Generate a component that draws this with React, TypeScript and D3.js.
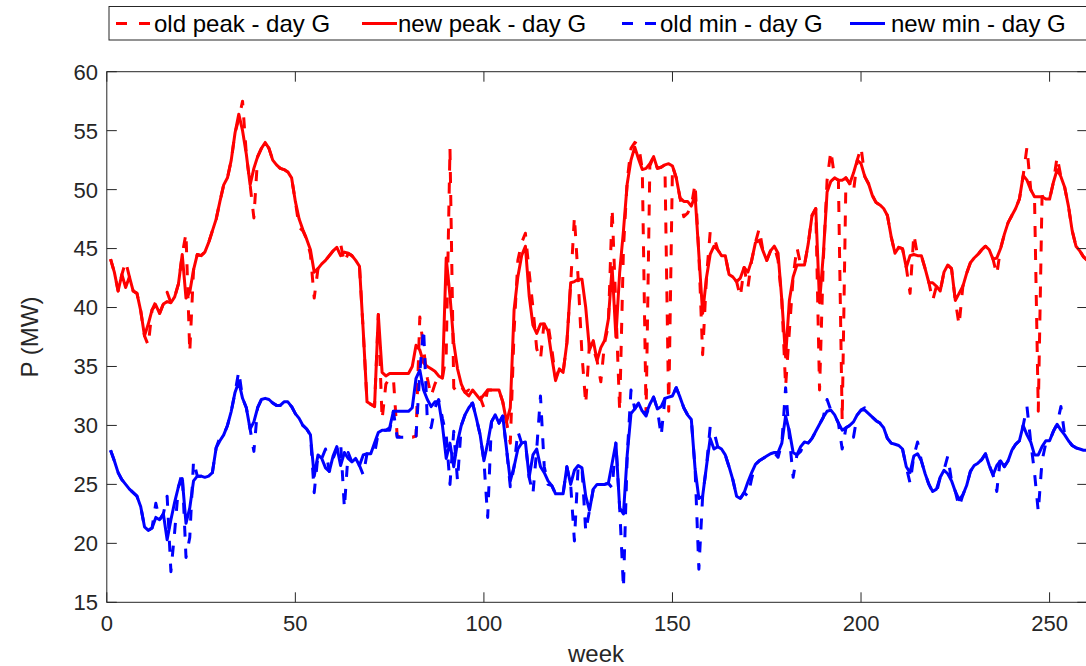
import React from "react";
import * as d3 from "d3";

// ---- data ----
const weeks: number[] = d3.range(1, 261);

const xTicks = [0, 50, 100, 150, 200, 250];
const yTicks = [15, 20, 25, 30, 35, 40, 45, 50, 55, 60];

const seriesNames = ["old peak - day G", "new peak - day G", "old min - day G", "new min - day G"];

const oldPeak: number[] = [
  44.1, 43.0, 41.4, 42.8, 43.9, 42.6, 41.4, 41.2, 39.7, 37.6,
  36.8, 39.8, 40.5, 39.5, 40.3, 41.3, 40.4, 40.9, 42.0, 44.5,
  46.3, 36.2, 43.2, 44.5, 44.4, 44.7, 45.5, 46.5, 47.5, 49.0,
  50.4, 51.0, 52.5, 54.8, 56.0, 57.5, 53.0, 50.4, 47.6, 52.8,
  53.5, 54.0, 53.5, 52.5, 52.1, 51.8, 51.7, 51.5, 51.0, 49.0,
  46.8, 46.5, 45.8, 44.5, 40.8, 43.3, 43.7, 44.0, 44.4, 44.8,
  45.2, 45.4, 43.8, 44.6, 44.4, 44.0, 43.5, 38.0, 32.0, 31.8,
  31.6, 39.4, 30.5, 33.5, 34.0, 34.0, 29.1, 29.0, 29.0, 29.0,
  29.0, 29.1, 39.2, 36.5, 34.0, 32.5, 33.5, 34.2, 34.0, 36.0,
  53.5, 33.2, 32.8, 33.3, 32.8, 33.0, 32.8, 32.6, 32.4, 31.5,
  33.0, 33.0, 33.0, 33.0, 32.0, 30.3, 28.5, 38.0, 44.0, 45.5,
  46.3, 43.0, 40.0, 36.5, 35.6, 38.9, 38.6, 36.5, 34.0, 34.8,
  34.5, 37.0, 42.0, 47.7, 42.4, 36.0, 31.8, 37.0, 36.5, 35.5,
  33.7, 37.0, 38.5, 48.4, 40.0, 31.2, 45.0, 50.8, 53.5, 54.0,
  53.8, 51.7, 30.9, 52.0, 52.8, 51.8, 51.9, 52.1, 31.2, 52.0,
  51.0, 49.3, 47.7, 48.0, 48.6, 50.5, 44.5, 36.0, 42.5, 46.4,
  46.0, 44.9, 44.4, 44.4, 42.8, 42.6, 42.2, 40.9, 43.4, 41.7,
  44.0, 45.5, 46.7, 44.8, 44.0, 44.8, 45.2, 44.0, 40.6, 33.3,
  38.0, 42.6, 45.1, 43.6, 43.6, 45.4, 47.8, 48.4, 33.0, 44.0,
  50.8, 53.3, 51.0, 50.8, 30.4, 51.0, 50.5, 49.8, 52.5, 53.6,
  51.1, 50.5, 49.5, 48.9, 48.7, 48.4, 47.8, 46.0, 44.6, 45.1,
  45.0, 43.4, 41.2, 46.2, 44.4, 44.4, 43.3, 42.1, 40.6, 41.8,
  41.4, 43.0, 43.6, 43.3, 40.6, 38.5, 41.8, 42.9, 43.8, 44.2,
  44.5, 44.9, 45.2, 44.9, 44.1, 42.8, 45.0, 46.2, 47.2, 47.8,
  48.4, 49.2, 51.2, 53.6, 50.0, 49.4, 31.2, 49.4, 49.5, 49.2,
  50.6, 52.8, 51.1, 50.2, 48.6, 46.5, 45.2, 44.8, 44.3, 44.0,
];

const newPeak: number[] = [
  44.1, 43.0, 41.4, 42.8, 41.7, 42.6, 41.4, 41.2, 39.7, 37.6,
  38.6, 39.8, 40.2, 39.5, 40.3, 40.5, 40.4, 40.9, 42.0, 44.5,
  40.8, 41.3, 43.2, 44.5, 44.4, 44.7, 45.5, 46.5, 47.5, 49.0,
  50.4, 51.0, 52.5, 54.8, 56.4, 55.0, 53.0, 50.4, 51.8, 52.8,
  53.5, 54.0, 53.5, 52.5, 52.1, 51.8, 51.7, 51.5, 51.0, 49.0,
  47.5, 46.6, 45.8, 44.9, 43.0, 43.3, 43.7, 44.0, 44.4, 44.8,
  45.1, 44.4, 44.7, 44.6, 44.4, 44.0, 43.5, 38.0, 32.0, 31.8,
  31.6, 39.4, 34.5, 34.2, 34.4, 34.4, 34.4, 34.4, 34.4, 34.4,
  35.0, 36.8, 36.4, 35.3, 35.0, 34.8, 34.6, 34.2, 34.0, 44.2,
  41.0, 37.0, 34.8, 33.5, 32.8, 32.5, 33.0, 32.6, 32.2, 32.6,
  33.0, 33.0, 33.0, 33.0, 32.0, 30.3, 31.5, 39.8, 42.6, 44.4,
  45.2, 41.0, 38.5, 37.8, 38.6, 38.6, 38.0, 35.8, 33.8, 34.8,
  34.5, 37.0, 42.1, 42.2, 42.4, 42.4, 40.0, 36.4, 37.2, 35.5,
  36.6, 37.2, 39.0, 43.4, 37.5, 43.0, 46.5, 50.5, 52.5, 53.6,
  52.6, 51.7, 51.8, 52.2, 52.8, 51.8, 51.9, 52.1, 52.2, 52.0,
  51.0, 49.3, 49.0, 49.0, 48.6, 49.5, 44.5, 39.5, 42.5, 44.5,
  45.2, 44.9, 44.4, 44.4, 42.8, 42.6, 42.2, 42.5, 43.4, 43.0,
  44.0, 45.5, 45.7, 44.8, 44.0, 44.8, 45.2, 44.6, 40.6, 35.8,
  40.6, 42.6, 43.6, 43.6, 43.6, 45.4, 47.8, 48.4, 40.4, 44.5,
  49.8, 50.7, 51.0, 50.8, 50.8, 51.0, 50.5, 51.4, 52.5, 52.2,
  51.1, 50.5, 49.5, 48.9, 48.7, 48.4, 47.8, 46.0, 44.6, 45.1,
  45.0, 43.4, 44.4, 44.5, 44.4, 44.4, 43.3, 42.1, 42.1, 41.8,
  41.4, 43.0, 43.6, 43.3, 40.6, 41.2, 41.8, 42.9, 43.8, 44.2,
  44.5, 44.9, 45.2, 44.9, 44.1, 44.2, 45.0, 46.2, 47.2, 47.8,
  48.4, 49.2, 51.2, 50.8, 50.0, 49.4, 49.4, 49.4, 49.2, 49.2,
  50.6, 51.7, 51.1, 50.2, 48.6, 46.5, 45.2, 44.8, 44.3, 44.0,
];

const oldMin: number[] = [
  27.9, 27.0, 26.0, 25.4, 25.0, 24.6, 24.3, 24.0, 23.1, 21.4,
  21.1, 21.3, 23.4, 22.0, 22.5, 24.0, 17.6, 21.0, 24.8, 26.0,
  18.8, 20.5, 27.0, 25.7, 25.7, 25.6, 25.7, 26.0, 28.1, 29.0,
  29.2, 30.0, 31.2, 32.8, 34.6, 32.3, 31.5, 29.7, 27.8, 31.5,
  32.2, 32.3, 32.2, 31.9, 31.7, 31.7, 32.0, 32.0, 31.6, 31.0,
  30.6, 30.0, 29.7, 29.2, 24.3, 27.5, 27.2, 28.0, 26.1, 27.2,
  28.0, 28.6, 23.0, 27.7, 26.9, 27.2, 26.6, 25.8, 27.6, 27.6,
  27.6, 29.4, 29.6, 29.6, 29.6, 31.2, 29.0, 29.0, 29.0, 29.0,
  29.0, 29.1, 34.5, 38.2, 30.4, 29.8, 31.5, 32.2, 30.6, 29.2,
  25.0, 29.5, 25.3, 30.0, 30.9, 31.7, 31.9, 30.6, 29.2, 27.0,
  22.2, 30.3, 30.9, 30.2, 30.8, 28.0, 24.8, 26.5, 29.5, 28.5,
  28.6, 25.6, 24.2, 28.0, 32.5, 26.5, 25.0, 24.9, 24.2, 24.2,
  24.2, 26.5, 25.0, 20.2, 26.6, 26.4, 21.0, 22.8, 24.6, 25.0,
  25.0, 25.0, 25.1, 24.7, 28.5, 23.0, 16.2, 27.5, 33.0, 31.4,
  31.9, 31.2, 30.8, 31.8, 32.4, 31.4, 29.1, 32.3, 32.4, 32.5,
  33.2, 32.4, 31.5, 30.9, 30.5, 26.3, 17.8, 24.0, 26.5, 29.9,
  29.5, 28.2, 28.0, 27.5, 26.5, 25.4, 24.0, 23.8, 24.3, 24.0,
  25.5, 26.7, 27.0, 27.2, 27.4, 27.6, 27.7, 27.3, 28.5, 33.2,
  29.0, 25.6, 27.5, 27.8, 28.6, 28.5, 28.9, 29.5, 30.1, 30.7,
  32.2, 31.3, 30.9, 30.2, 28.0, 29.8, 30.0, 29.0, 30.9, 31.3,
  31.5, 31.0, 30.7, 30.4, 30.2, 29.8, 28.9, 28.5, 28.4, 28.3,
  28.0, 26.5, 25.1, 27.4, 28.6, 27.0, 25.9, 25.0, 24.3, 24.3,
  25.6, 26.2, 27.4, 25.3, 24.4, 23.1, 24.1, 24.9, 26.1, 26.6,
  26.8, 27.1, 27.6, 26.6, 25.8, 24.4, 27.4, 26.5, 27.0, 27.9,
  28.4, 28.7, 30.0, 31.6, 28.6, 26.0, 22.7, 27.0, 28.5, 28.7,
  29.5, 30.1, 31.6, 29.2, 28.7, 28.3, 28.1, 28.0, 27.9, 27.9,
];

const newMin: number[] = [
  27.9, 27.0, 26.0, 25.4, 25.0, 24.6, 24.3, 24.0, 23.1, 21.4,
  21.1, 21.3, 22.2, 22.0, 22.5, 20.3, 22.0, 23.5, 24.8, 25.5,
  21.7, 23.0, 25.3, 25.7, 25.7, 25.6, 25.7, 26.0, 28.1, 28.7,
  29.2, 30.0, 31.2, 32.8, 33.7, 32.3, 31.5, 29.7, 30.3, 31.5,
  32.2, 32.3, 32.2, 31.9, 31.7, 31.7, 32.0, 32.0, 31.6, 31.0,
  30.6, 30.0, 29.7, 29.2, 25.7, 27.5, 27.2, 26.4, 26.1, 27.4,
  28.2, 26.6, 27.7, 27.2, 26.9, 27.2, 26.6, 27.5, 27.6, 27.6,
  28.5, 29.4, 29.6, 29.6, 29.8, 31.2, 31.2, 31.2, 31.2, 31.2,
  31.5, 34.0, 34.7, 33.0, 32.2, 31.6, 32.0, 32.0, 30.0, 27.2,
  28.5, 26.5, 28.6, 30.0, 30.9, 31.5, 31.9, 30.6, 29.2, 27.0,
  28.5, 30.3, 30.9, 30.2, 30.8, 28.0, 25.3, 26.5, 28.0, 28.5,
  28.6, 25.6, 27.5, 28.0, 26.5, 26.0, 25.3, 24.9, 24.2, 24.2,
  24.2, 26.5, 25.0, 26.2, 26.6, 26.4, 24.0, 22.8, 24.6, 25.0,
  25.0, 25.0, 25.1, 26.8, 28.5, 23.0, 22.5, 27.5, 31.0, 31.4,
  31.9, 31.2, 31.0, 31.8, 32.4, 31.4, 31.6, 32.3, 32.4, 32.5,
  33.2, 32.4, 31.5, 30.9, 30.5, 26.3, 23.8, 24.0, 26.5, 28.9,
  28.0, 28.2, 28.0, 27.5, 26.5, 25.4, 24.0, 23.8, 24.3, 25.2,
  26.0, 26.7, 27.0, 27.2, 27.4, 27.6, 27.7, 27.7, 28.5, 30.8,
  29.5, 27.7, 27.5, 28.2, 28.6, 28.5, 28.9, 29.5, 30.1, 30.7,
  31.2, 31.3, 30.9, 30.2, 29.6, 29.8, 30.0, 30.3, 30.9, 31.3,
  31.3, 31.0, 30.7, 30.4, 30.2, 29.8, 28.9, 28.5, 28.4, 28.3,
  28.0, 26.5, 26.0, 27.4, 27.6, 27.0, 25.9, 25.0, 24.4, 24.6,
  25.6, 26.2, 25.9, 25.3, 24.4, 23.7, 24.1, 24.9, 26.1, 26.6,
  26.8, 27.1, 27.6, 26.6, 25.8, 26.6, 27.0, 26.5, 27.0, 27.9,
  28.4, 28.7, 30.0, 29.2, 28.6, 27.5, 27.5, 28.2, 28.7, 28.7,
  29.5, 30.1, 29.6, 29.2, 28.7, 28.3, 28.1, 28.0, 27.9, 27.9,
];

// ---- layout ----
const W = 1086;
const H = 666;
const FONT = "'Liberation Sans', Arial, Helvetica, sans-serif";
const AX = "#262626";
const RED = "#ff0000";
const BLUE = "#0000ff";
const DASH = "11,12";

export default function App() {
  const x = d3.scaleLinear().domain([0, 260]).range([106.8, 1087.3]);
  const y = d3.scaleLinear().domain([15, 60]).range([602.3, 71.7]);

  const line = d3
    .line<number>()
    .x((_, i) => x(weeks[i]))
    .y((d) => y(d));

  const series = [
    { name: seriesNames[0], data: oldPeak, color: RED, dash: DASH },
    { name: seriesNames[1], data: newPeak, color: RED, dash: undefined },
    { name: seriesNames[2], data: oldMin, color: BLUE, dash: DASH },
    { name: seriesNames[3], data: newMin, color: BLUE, dash: undefined },
  ];

  const [x0, x1] = x.range();
  const [yb, yt] = y.range();
  const tick = 10;

  const legendItems = [
    { lx: 116, tx: 154 },
    { lx: 362, tx: 398 },
    { lx: 622, tx: 660 },
    { lx: 850, tx: 891 },
  ];

  return (
    <svg
      width={W}
      height={H}
      style={{ position: "absolute", left: 0, top: 0, background: "#fff" }}
      fontFamily={FONT}
    >
      <rect x={0} y={0} width={W} height={H} fill="#fff" />
      <defs>
        <clipPath id="plotclip">
          <rect x={x0} y={yt} width={x1 - x0} height={yb - yt} />
        </clipPath>
      </defs>

      {/* data lines */}
      <g clipPath="url(#plotclip)">
        {series.map((s) => (
          <path
            key={s.name}
            d={line(s.data) || ""}
            fill="none"
            stroke={s.color}
            strokeWidth={3}
            strokeDasharray={s.dash}
            strokeLinejoin="round"
          />
        ))}
      </g>

      {/* axes box */}
      <rect x={x0} y={yt} width={x1 - x0} height={yb - yt} fill="none" stroke={AX} strokeWidth={1} />

      {/* x ticks */}
      {xTicks.map((t) => (
        <g key={"x" + t}>
          <line x1={x(t)} x2={x(t)} y1={yb} y2={yb - tick} stroke={AX} />
          <line x1={x(t)} x2={x(t)} y1={yt} y2={yt + tick} stroke={AX} />
          <text x={x(t)} y={631} textAnchor="middle" fontSize={22} fill={AX}>
            {t}
          </text>
        </g>
      ))}

      {/* y ticks */}
      {yTicks.map((t) => (
        <g key={"y" + t}>
          <line x1={x0} x2={x0 + tick} y1={y(t)} y2={y(t)} stroke={AX} />
          <line x1={x1} x2={x1 - tick} y1={y(t)} y2={y(t)} stroke={AX} />
          <text x={98} y={y(t)} dy="0.36em" textAnchor="end" fontSize={22} fill={AX}>
            {t}
          </text>
        </g>
      ))}

      {/* axis labels */}
      <text x={(x0 + x1) / 2 - 1} y={662} textAnchor="middle" fontSize={24} fill={AX}>
        week
      </text>
      <text
        transform={`translate(38,${(yt + yb) / 2}) rotate(-90)`}
        textAnchor="middle"
        fontSize={24}
        fill={AX}
      >
        P (MW)
      </text>

      {/* legend */}
      <rect x={109} y={6.5} width={990} height={33.5} fill="#fff" stroke={AX} strokeWidth={1} />
      {series.map((s, i) => (
        <g key={"lg" + i}>
          <line
            x1={legendItems[i].lx}
            x2={legendItems[i].lx + 35}
            y1={23.5}
            y2={23.5}
            stroke={s.color}
            strokeWidth={3}
            strokeDasharray={s.dash}
          />
          <text x={legendItems[i].tx} y={31.5} fontSize={24} fill="#000">
            {s.name}
          </text>
        </g>
      ))}
    </svg>
  );
}
